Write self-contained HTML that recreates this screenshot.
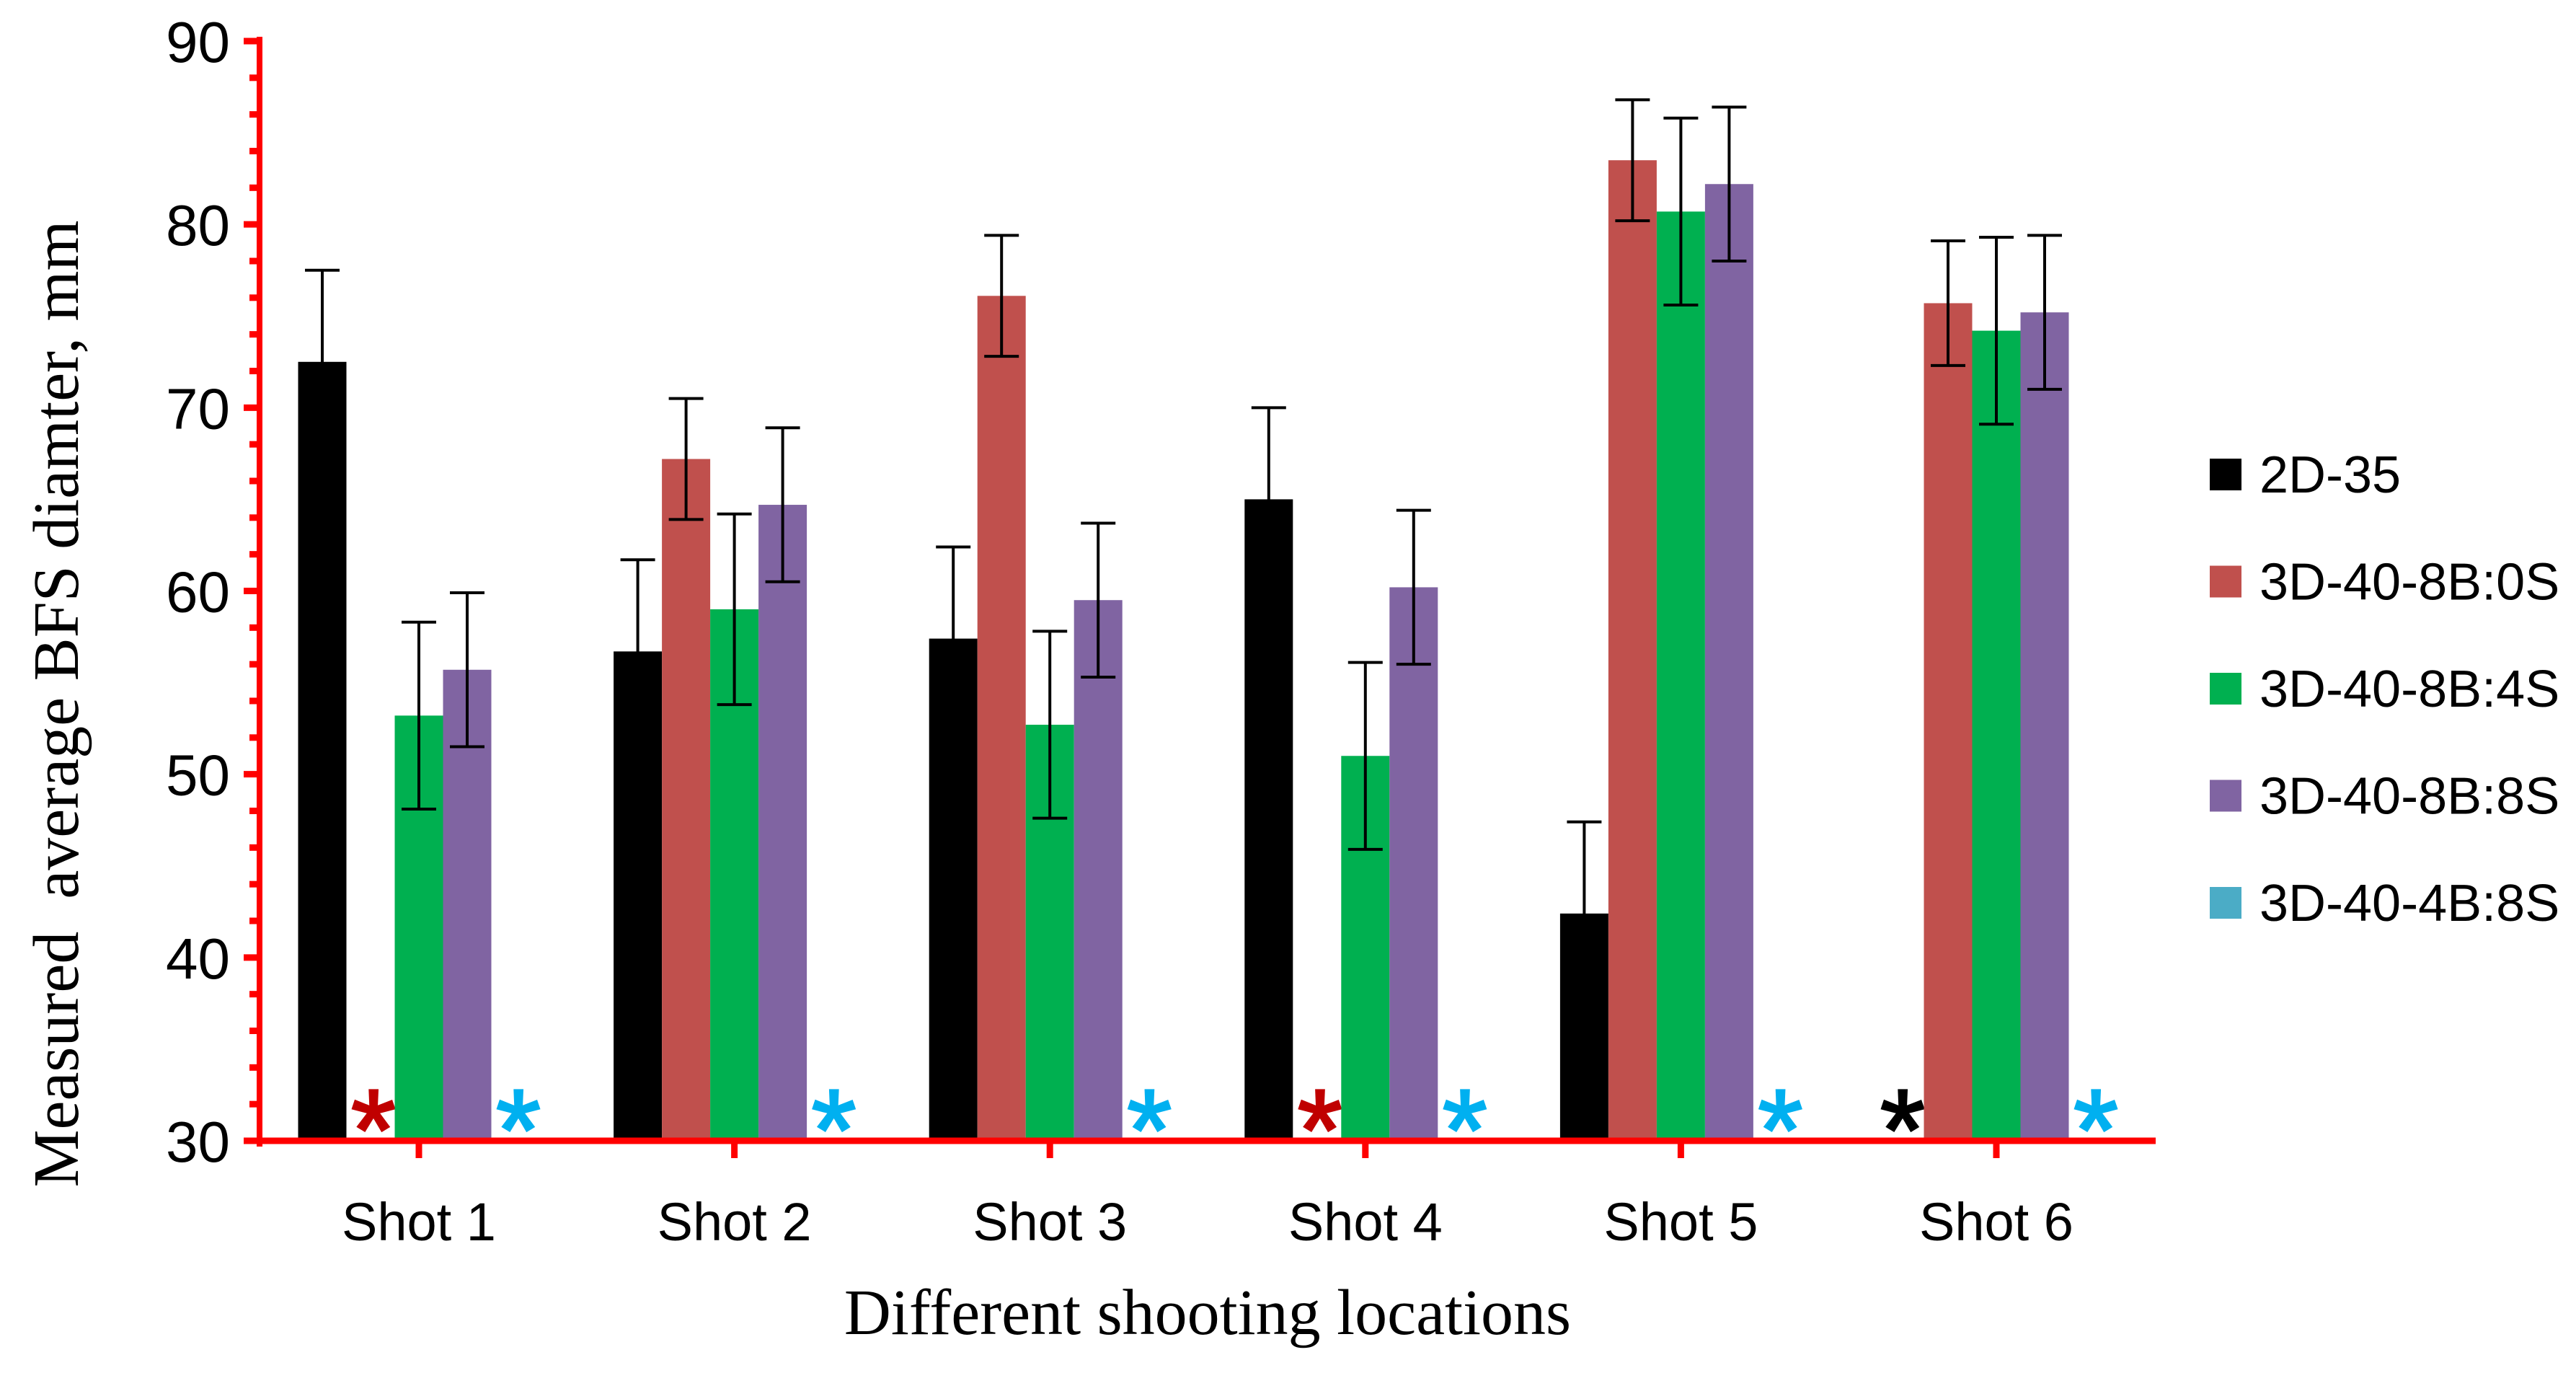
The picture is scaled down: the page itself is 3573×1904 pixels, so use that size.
<!DOCTYPE html>
<html><head><meta charset="utf-8">
<style>
html,body{margin:0;padding:0;background:#fff;width:3573px;height:1904px;overflow:hidden}
svg{display:block}
text{font-family:"Liberation Sans",sans-serif}
</style></head>
<body>
<svg id="chart" width="3573" height="1904" viewBox="0 0 3573 1904" xmlns="http://www.w3.org/2000/svg"></svg>
<script>
const categories = ["Shot 1","Shot 2","Shot 3","Shot 4","Shot 5","Shot 6"];
const seriesNames = ["2D-35","3D-40-8B:0S","3D-40-8B:4S","3D-40-8B:8S","3D-40-4B:8S"];
const s2D35 = [72.5, 56.7, 57.4, 65.0, 42.4, null];
const s8B0S = [null, 67.2, 76.1, null, 83.5, 75.7];
const s8B4S = [53.2, 59.0, 52.7, 51.0, 80.7, 74.2];
const s8B8S = [55.7, 64.7, 59.5, 60.2, 82.2, 75.2];
const s4B8S = [null, null, null, null, null, null];
const e2D35 = [5.0, 5.0, 5.0, 5.0, 5.0, null];
const e8B0S = [null, 3.3, 3.3, null, 3.3, 3.4];
const e8B4S = [5.1, 5.2, 5.1, 5.1, 5.1, 5.1];
const e8B8S = [4.2, 4.2, 4.2, 4.2, 4.2, 4.2];
const e4B8S = [null, null, null, null, null, null];
const yTicks = [30,40,50,60,70,80,90];

const series = [s2D35,s8B0S,s8B4S,s8B8S,s4B8S];
const errs = [e2D35,e8B0S,e8B4S,e8B8S,e4B8S];
const colors = ["#000000","#c0504d","#00b050","#8064a2","#4bacc6"];
const starColors = ["#000000","#c00000","#00b050","#8064a2","#00b0f0"];

const NS="http://www.w3.org/2000/svg";
const svg=document.getElementById("chart");
function mk(tag,attrs,parent){const e=document.createElementNS(NS,tag);for(const k in attrs)e.setAttribute(k,attrs[k]);(parent||svg).appendChild(e);return e;}

const axisX=360, xEnd=2990, yMin=30, yMax=90, yTop=57, yBot=1582;
function y(v){return yBot-(v-yMin)/(yMax-yMin)*(yBot-yTop);}
const groupW=437.6, firstC=581, barW=67;
function xc(i){return firstC+i*groupW;}
function xb(i,s){return xc(i)-2.5*barW+s*barW;}

for(let s=0;s<series.length;s++){
  for(let i=0;i<categories.length;i++){
    const v=series[s][i];
    if(v===null){
      const t=mk("text",{x:xb(i,s)+barW/2+4,y:1622,"text-anchor":"middle","font-size":"160",fill:starColors[s],stroke:starColors[s],"stroke-width":"3"});
      
      
      t.textContent="*";
      continue;
    }
    const r=mk("rect",{x:xb(i,s),y:y(v),width:barW,height:yBot-y(v),fill:colors[s]});
    
    
    const e=errs[s][i];
    if(e!==null){
      const cx=xb(i,s)+barW/2;
      const g=mk("g",{stroke:"#000","stroke-width":"4"});
      
      
      mk("line",{x1:cx,x2:cx,y1:y(v+e),y2:y(v-e)},g);
      mk("line",{x1:cx-24,x2:cx+24,y1:y(v+e),y2:y(v+e)},g);
      mk("line",{x1:cx-24,x2:cx+24,y1:y(v-e),y2:y(v-e)},g);
    }
  }
}

const ya=mk("line",{x1:axisX,x2:axisX,y1:yTop-6,y2:yBot+8,stroke:"#ff0000","stroke-width":"8"});


const xa=mk("line",{x1:axisX-20,x2:xEnd,y1:yBot,y2:yBot,stroke:"#ff0000","stroke-width":"9"});


for(let v=30;v<=90;v+=2){
  const major=(v%10===0);
  mk("line",{x1:axisX-(major?22:14),x2:axisX,y1:y(v),y2:y(v),stroke:"#ff0000","stroke-width":"9"});
}
for(const v of yTicks){
  const t=mk("text",{x:319,y:y(v)+29,"text-anchor":"end","font-size":"80",fill:"#000"});
  
  
  t.textContent=v;
}
for(let i=0;i<categories.length;i++){
  mk("line",{x1:xc(i),x2:xc(i),y1:yBot,y2:yBot+24,stroke:"#ff0000","stroke-width":"9"});
  const t=mk("text",{x:xc(i),y:1720,"text-anchor":"middle","font-size":"74",fill:"#000"});
  
  
  t.textContent=categories[i];
}
const xt=mk("text",{x:1675,y:1850,"text-anchor":"middle","font-size":"90",fill:"#000",style:"font-family:'Liberation Serif',serif"});


xt.textContent="Different shooting locations";
const yt=mk("text",{x:0,y:0,"text-anchor":"middle","font-size":"90",fill:"#000",transform:"translate(108,976) rotate(-90)",style:"font-family:'Liberation Serif',serif;white-space:pre"});


yt.textContent="Measured  average BFS diamter, mm";

for(let s=0;s<seriesNames.length;s++){
  const ly=658+s*148.5;
  const r=mk("rect",{x:3065,y:ly-22,width:44,height:44,fill:colors[s]});
  
  
  const t=mk("text",{x:3134,y:ly+25,"font-size":"72",fill:"#000"});
  
  
  t.textContent=seriesNames[s];
}
</script>
</body></html>
